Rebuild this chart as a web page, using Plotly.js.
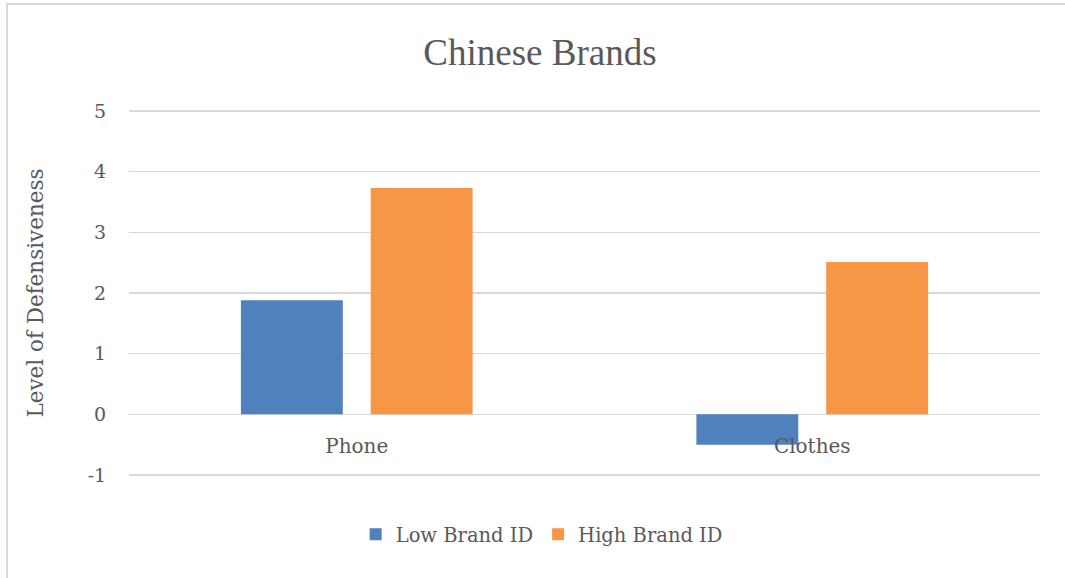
<!DOCTYPE html>
<html>
<head>
<meta charset="utf-8">
<script src="https://cdn.plot.ly/plotly-3.0.1.min.js"></script>
<style>
  html, body { margin: 0; padding: 0; background: #fff; }
  #wrap { position: relative; width: 1065px; height: 578px; }
  #frame { position: absolute; left: 6px; top: 3px; width: 1070px; height: 600px;
           border-left: 2px solid #d9d9d9; border-top: 2px solid #d9d9d9; box-sizing: border-box; pointer-events: none; z-index: 5; }
  #chart { width: 1065px; height: 578px; }
</style>
</head>
<body>
<div id="wrap">
  <div id="chart"></div>
  <div id="frame"></div>
</div>
<script>
const categories = ["Phone", "Clothes"];
const lowBrandID = [1.88, -0.5];
const highBrandID = [3.73, 2.51];
const seriesNames = ["Low Brand ID", "High Brand ID"];
const yTicks = [-1, 0, 1, 2, 3, 4, 5];

const titleFam = "Liberation Serif, Times New Roman, serif";
const fontFam = "DejaVu Serif, serif";
const txt = "#595959";

const traces = [
  { type: "bar", name: seriesNames[0], x: categories, y: lowBrandID, marker: { color: "#4F81BD" }, hoverinfo: "x+y" },
  { type: "bar", name: seriesNames[1], x: categories, y: highBrandID, marker: { color: "#F79646" }, hoverinfo: "x+y" }
];

const yMin = yTicks[0], yMax = yTicks[yTicks.length - 1];
const pad = 0.05;

const layout = {
  width: 1065, height: 578,
  margin: { l: 129, r: 25, t: 108, b: 100 },
  paper_bgcolor: "#fff", plot_bgcolor: "#fff",
  font: { family: fontFam, color: txt },
  title: { text: "Chinese Brands", x: 0.507, xanchor: "center", y: 0.91, yanchor: "middle",
           font: { family: titleFam, size: 37, color: txt } },
  barmode: "group",
  bargap: 0.43,
  bargroupgap: 0.215,
  showlegend: true,
  legend: { orientation: "h", x: 0.453, xanchor: "center", y: -0.153, yanchor: "middle",
            font: { family: fontFam, size: 19.5, color: txt }, itemwidth: 30, tracegroupgap: 0 },
  xaxis: {
    type: "category",
    anchor: "free",
    position: (0 - (yMin - pad)) / ((yMax + pad) - (yMin - pad)),
    showline: false, showgrid: false, zeroline: false,
    ticks: "outside", ticklen: 14, tickcolor: "rgba(0,0,0,0)",
    tickfont: { family: fontFam, size: 20, color: txt }
  },
  yaxis: {
    range: [yMin - pad, yMax + pad],
    tickvals: yTicks,
    ticktext: yTicks.map(String),
    showline: false, zeroline: false,
    showgrid: true, gridcolor: "#d9d9d9", gridwidth: 1.5,
    ticks: "outside", ticklen: 18, tickcolor: "rgba(0,0,0,0)",
    tickfont: { family: fontFam, size: 19, color: txt },
    title: { text: "Level of Defensiveness", standoff: 38, font: { family: fontFam, size: 21.5, color: txt } }
  }
};

Plotly.newPlot("chart", traces, layout, { displayModeBar: false, staticPlot: true });
</script>
</body>
</html>
